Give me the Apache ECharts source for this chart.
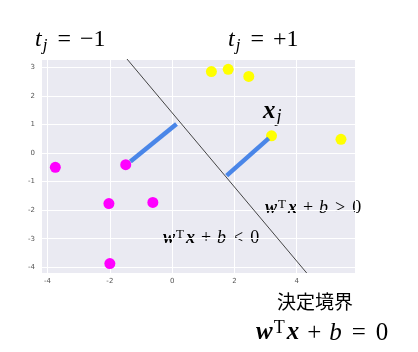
<!DOCTYPE html>
<html>
<head>
<meta charset="utf-8">
<script src="https://cdn.jsdelivr.net/npm/echarts@6/dist/echarts.min.js"></script>
<style>html,body{margin:0;padding:0;background:#fff;}#c{width:418px;height:352px;}</style>
</head>
<body>
<div id="c"></div>
<script>
// data
const magentaX = [-3.75, -1.49, -2.03, -0.62, -2.0];
const magentaY = [-0.5, -0.41, -1.77, -1.73, -3.87];
const yellowX = [1.26, 1.8, 2.46, 3.19, 5.42];
const yellowY = [2.85, 2.93, 2.68, 0.6, 0.48];
const boundaryX = [-1.45, 4.32];
const boundaryY = [3.29, -4.2];
const seg1X = [-1.34, 0.14];
const seg1Y = [-0.30, 1.015];
const seg2X = [1.75, 3.1];
const seg2Y = [-0.79, 0.51];
const xRange = [-4.21, 5.87];
const yRange = [-4.2, 3.29];

const zip = (xs, ys) => xs.map((x, i) => [x, ys[i]]);
const serif = 'Liberation Serif';

function mathRich(size) {
  const p = Math.round(size * 0.33), q = Math.round(size * 0.38);
  return {
    bi: { fontFamily: serif, fontStyle: 'italic', fontWeight: 'bold', fontSize: size, color: '#000' },
    i: { fontFamily: serif, fontStyle: 'italic', fontSize: size, color: '#000' },
    r: { fontFamily: serif, fontSize: size, color: '#000' },
    op: { fontFamily: serif, fontSize: size, color: '#000', padding: [0, p, 0, p] },
    rel: { fontFamily: serif, fontSize: size, color: '#000', padding: [0, q, 0, q] },
    sup: { fontFamily: serif, fontSize: Math.round(size * 0.7), color: '#000', verticalAlign: 'top', padding: [0, 2, Math.round(size * 0.4), 1] },
    sub: { fontFamily: serif, fontStyle: 'italic', fontSize: Math.round(size * 0.7), color: '#000', padding: [Math.round(size * 0.45), 1, 0, 1] }
  };
}

const chart = echarts.init(document.getElementById('c'), null, { renderer: 'canvas' });
const axisLabel = { color: '#555', fontSize: 7, fontFamily: 'DejaVu Sans', showMinLabel: false, showMaxLabel: false };
chart.setOption({
  animation: false,
  grid: { left: 41, top: 59, width: 314, height: 214, backgroundColor: '#eaeaf2', show: true, borderWidth: 0 },
  xAxis: {
    type: 'value', min: xRange[0], max: xRange[1], splitNumber: 5,
    axisLine: { show: false }, axisTick: { show: false },
    axisLabel: Object.assign({ margin: 5 }, axisLabel),
    splitLine: { lineStyle: { color: '#fff', width: 1 } }
  },
  yAxis: {
    type: 'value', min: yRange[0], max: yRange[1], splitNumber: 7,
    axisLine: { show: false }, axisTick: { show: false },
    axisLabel: Object.assign({ margin: 6 }, axisLabel),
    splitLine: { lineStyle: { color: '#fff', width: 1 } }
  },
  series: [
    { type: 'line', data: zip(boundaryX, boundaryY), symbol: 'none', lineStyle: { color: '#444', width: 1 }, clip: true },
    { type: 'line', data: zip(seg1X, seg1Y), symbol: 'none', lineStyle: { color: '#4a86e8', width: 4.5, cap: 'butt' } },
    { type: 'line', data: zip(seg2X, seg2Y), symbol: 'none', lineStyle: { color: '#4a86e8', width: 4.5, cap: 'butt' } },
    { type: 'scatter', data: zip(magentaX, magentaY), symbolSize: 11, itemStyle: { color: '#ff00ff', opacity: 1 } },
    { type: 'scatter', data: zip(yellowX, yellowY), symbolSize: 11, itemStyle: { color: '#ffff00', opacity: 1 } }
  ],
  graphic: [
    { type: 'text', left: 35, top: 28, style: { text: '{i|t}{sub|j}{rel|=}{r|−1}', rich: mathRich(24) } },
    { type: 'text', left: 228, top: 28, style: { text: '{i|t}{sub|j}{rel|=}{r|+1}', rich: mathRich(24) } },
    { type: 'text', left: 263, top: 99, style: { text: '{bi|x}{sub|j}', rich: mathRich(25) } },
    { type: 'text', left: 265, top: 198, style: { text: '{bi|w}{sup|T}{bi|x}{op|+}{i|b}{rel|>}{r|0}', rich: mathRich(18) } },
    { type: 'text', left: 163, top: 228, style: { text: '{bi|w}{sup|T}{bi|x}{op|+}{i|b}{rel|<}{r|0}', rich: mathRich(18) } },
    { type: 'text', left: 277, top: 292, style: { text: '決定境界', fontFamily: 'Noto Sans CJK JP', fontSize: 19, fill: '#000' } },
    { type: 'text', left: 256, top: 319, style: { text: '{bi|w}{sup|T}{bi|x}{op|+}{i|b}{rel|=}{r|0}', rich: mathRich(25) } }
  ]
});
</script>
</body>
</html>
